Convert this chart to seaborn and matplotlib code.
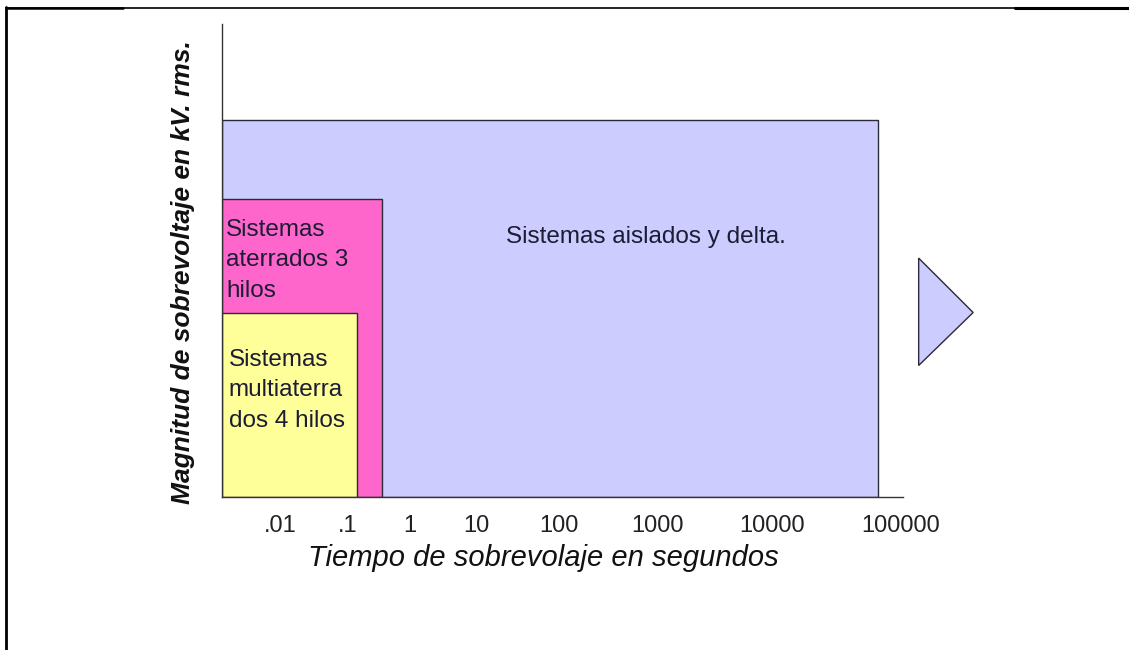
import numpy as np
import matplotlib
matplotlib.use("Agg")
import matplotlib.pyplot as plt
from matplotlib.lines import Line2D
from matplotlib.patches import Polygon
import seaborn as sns

# schematic: x and y in axis units (0-100)
tick_labels = [".01", ".1", "1", "10", "100", "1000", "10000", "100000"]
tick_pos = [8.5, 18.4, 27.6, 37.4, 49.5, 64.0, 80.8, 99.7]

box_names = ["Sistemas aislados y delta.",
             "Sistemas\naterrados 3\nhilos",
             "Sistemas\nmultiaterra\ndos 4 hilos"]
box_width = [96.3, 23.45, 19.8]
box_height = [79.6, 62.9, 39.0]
box_colors = ["#CCCCFF", "#FF66CC", "#FFFF99"]

sns.set_style("white")
plt.rcParams['font.family'] = ['Liberation Sans', 'DejaVu Sans']

fig = plt.figure(figsize=(11.29, 6.5), dpi=100)
ax = fig.add_axes([222 / 1129, 1 - 497 / 650, 681 / 1129, 473 / 650])

for w, h, c in zip(box_width, box_height, box_colors):
    ax.bar(0, h, width=w, align='edge', color=c, edgecolor='#2a2a3a',
           linewidth=1.0, zorder=2)

text_col = '#1c1c34'
ax.text(box_width[0] * 0.646, box_height[0] * 0.69, box_names[0],
        ha='center', va='center', fontsize=17.5, color=text_col)
ax.text(0.6, box_height[1] * 0.795, box_names[1], ha='left', va='center',
        fontsize=17.5, color=text_col, linespacing=1.5)
ax.text(1.0, box_height[2] * 0.58, box_names[2], ha='left', va='center',
        fontsize=17.5, color=text_col, linespacing=1.5)

# arrow to the right of the big box
tip_x = box_width[0] + 14
mid_y = box_height[0] * 0.49
tri = Polygon([[box_width[0] + 6, mid_y + 11.5], [tip_x, mid_y],
               [box_width[0] + 6, mid_y - 11.2]], closed=True,
              facecolor=box_colors[0], edgecolor='#2a2a3a', linewidth=1.0,
              clip_on=False)
ax.add_patch(tri)

ax.set_xlim(0, 100)
ax.set_ylim(0, 100)
ax.set_xticks(tick_pos)
ax.set_xticklabels(tick_labels)
ax.set_yticks([])
ax.tick_params(axis='x', length=0, pad=13, labelsize=17, labelcolor='#222222')
for s in ['top', 'right']:
    ax.spines[s].set_visible(False)
for s in ['left', 'bottom']:
    ax.spines[s].set_color('#333333')
    ax.spines[s].set_linewidth(1.0)

ax.set_xlabel("Tiempo de sobrevolaje en segundos", fontsize=21,
              fontstyle='italic', color='#111111')
ax.xaxis.set_label_coords((543 - 222) / 681, (497 - 558) / 473)
ax.xaxis.label.set_va('center')
ax.set_ylabel("Magnitud de sobrevoltaje en kV. rms.", fontsize=19,
              fontstyle='italic', fontweight='bold', color='#111111')
ax.yaxis.set_label_coords((183 - 222) / 681, (497 - 272) / 473)
ax.yaxis.label.set_va('center')

# page frame
fig.add_artist(Line2D([6 / 1129, 6 / 1129], [0, 1 - 7 / 650], color='black', lw=2))
fig.add_artist(Line2D([6 / 1129, 1], [1 - 7.5 / 650] * 2, color='black', lw=1.2))
fig.add_artist(Line2D([1015 / 1129, 1], [1 - 8 / 650] * 2, color='black', lw=2.2))
fig.add_artist(Line2D([6 / 1129, 123 / 1129], [1 - 7.5 / 650] * 2, color='black', lw=1.8))

fig.savefig("out.png", dpi=100)
